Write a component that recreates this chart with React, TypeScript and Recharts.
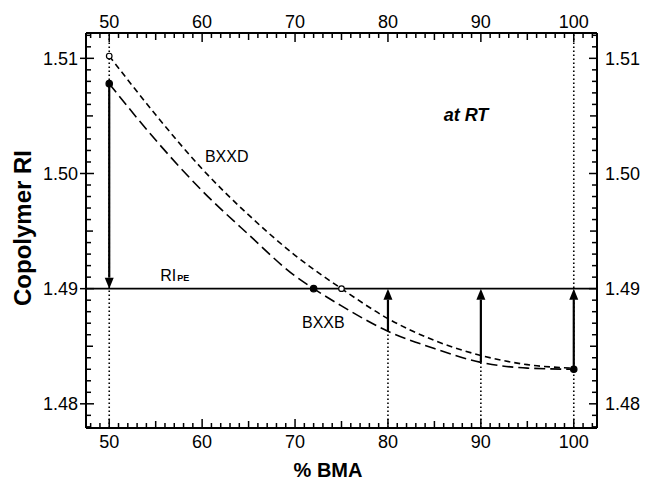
import { ComposedChart, Line, XAxis, YAxis, ReferenceLine, ReferenceDot } from 'recharts'

// % BMA vs copolymer refractive index
const bxxdX = [50, 55, 60, 65, 70, 75, 80, 85, 90, 95, 100]
const bxxdRI = [1.5102, 1.5051, 1.5004, 1.4964, 1.4929, 1.49, 1.4874, 1.4855, 1.4842, 1.4834, 1.4831]
const bxxbX = [50, 55, 60, 65, 70, 72, 75, 80, 85, 90, 95, 100]
const bxxbRI = [1.5078, 1.5029, 1.4985, 1.4947, 1.4911, 1.49, 1.4885, 1.4863, 1.4848, 1.4836, 1.4831, 1.483]
const riPE = 1.49
const bxxdMarks = [50, 75]
const bxxbMarks = [50, 72, 100]
const arrowUpX = [80, 90, 100]
const xTickLabels = [50, 60, 70, 80, 90, 100]
const yTickLabels = [1.48, 1.49, 1.5, 1.51]

const xDomain = [47.5, 102.5]
const yDomain = [1.4779, 1.5122]

const bxxd = bxxdX.map((x, i) => ({ x, y: bxxdRI[i] }))
const bxxb = bxxbX.map((x, i) => ({ x, y: bxxbRI[i] }))
const riAt = (x: number) => bxxb.find((d) => d.x === x)!.y

// unlabeled minor ticks
const xMinor: number[] = []
for (let i = 48; i <= 102; i++) xMinor.push(i)
const yMinor: number[] = []
for (let i = 1478; i <= 1512; i++) yMinor.push(i / 1000)

// plot box is 511 x 395 px; turns tick lengths (px) into data units
const xPx = (xDomain[1] - xDomain[0]) / 511
const yPx = (yDomain[1] - yDomain[0]) / 395

const FONT = '"Liberation Sans", Arial, Helvetica, sans-serif'
const near = (a: number, b: number) => Math.abs(a - b) < 1e-7
const isMult = (v: number, step: number) => Math.abs(v / step - Math.round(v / step)) < 1e-6
const xLen = (v: number) => (xTickLabels.some((t) => near(t, v)) ? 9 : isMult(v, 5) ? 7 : 5)
const yLen = (v: number) => (yTickLabels.some((t) => near(t, v)) ? 8 : isMult(v, 0.005) ? 7 : 5)

const XLabel = (side: 'top' | 'bottom') => (p: any) => {
  const { x, y, payload } = p
  const v = payload.value
  if (!xTickLabels.some((t) => near(t, v))) return <g />
  return (
    <text x={x} y={side === 'bottom' ? y + 20 : y - 5} textAnchor="middle" fontSize={18} fontFamily={FONT} fill="#000">
      {v}
    </text>
  )
}

const YLabel = (side: 'left' | 'right') => (p: any) => {
  const { x, y, payload } = p
  const v = payload.value
  if (!yTickLabels.some((t) => near(t, v))) return <g />
  const dir = side === 'left' ? -1 : 1
  return (
    <g>
      {side === 'left' && <path d={`M${x - 6},${y}H${x}`} stroke="black" strokeWidth={1.5} fill="none" />}
      <text x={x + dir * 8} y={y + 6.5} textAnchor={side === 'left' ? 'end' : 'start'} fontSize={18} fontFamily={FONT} fill="#000">
        {v.toFixed(2)}
      </text>
    </g>
  )
}

const markDot = (marks: number[], filled: boolean) => (p: any) => {
  const { cx, cy, payload, index } = p
  if (!marks.includes(payload.x)) return <g key={`n-${index}`} />
  return (
    <circle key={`m-${index}`} cx={cx} cy={cy} r={filled ? 3.2 : 2.8} fill={filled ? '#000' : '#fff'} stroke="#000" strokeWidth={1.2} />
  )
}

const Arrow = (p: any) => {
  const { x1, y1, x2, y2 } = p
  const dir = y2 > y1 ? 1 : -1
  const L = 11
  const W = 4.5
  return (
    <g>
      <path d={`M${x1},${y1}L${x2},${y2 - dir * L}`} stroke="#000" strokeWidth={2.2} fill="none" />
      <polygon points={`${x2},${y2} ${x2 - W},${y2 - dir * L} ${x2 + W},${y2 - dir * L}`} fill="#000" />
    </g>
  )
}

const textAt = (txt: string, anchor: string, size: number, extra: any = {}) => (p: any) => (
  <text x={p.cx} y={p.cy} textAnchor={anchor} fontSize={size} fontFamily={FONT} fill="#000" {...extra}>
    {txt}
  </text>
)

const riLabel = (p: any) => (
  <text x={p.cx} y={p.cy} fontFamily={FONT} fill="#000">
    <tspan fontSize={16}>RI</tspan>
    <tspan fontSize={9} fontWeight="bold" dx={1}>PE</tspan>
  </text>
)

const ax = { xAxisId: 'b', yAxisId: 'l' }
const tickStyle = { stroke: 'black', strokeWidth: 1.5, ifOverflow: 'visible' as const }

export default function App() {
  return (
    <div style={{ position: 'absolute', left: 0, top: 0, background: '#fff' }}>
      <ComposedChart width={646} height={484} margin={{ top: 3, right: 4, bottom: 26, left: 16 }}>
        <XAxis xAxisId="b" type="number" dataKey="x" domain={xDomain} allowDataOverflow ticks={xTickLabels} interval={0}
          tickSize={0} tickMargin={0} tickLine={false} tick={XLabel('bottom')} axisLine={{ stroke: '#000', strokeWidth: 2 }} height={30}
          label={{ content: () => (
            <text x={328} y={477} textAnchor="middle" fontSize={20} fontWeight="bold" fontFamily={FONT} fill="#000">% BMA</text>
          ) }}
        />
        <XAxis xAxisId="t" orientation="top" type="number" dataKey="x" domain={xDomain} allowDataOverflow ticks={xTickLabels} interval={0}
          tickSize={0} tickMargin={0} tickLine={false} tick={XLabel('top')} axisLine={{ stroke: '#000', strokeWidth: 2 }} height={30} />
        <YAxis yAxisId="l" type="number" domain={yDomain} allowDataOverflow ticks={yTickLabels} interval={0}
          tickSize={0} tickMargin={0} tickLine={false} tick={YLabel('left')} axisLine={{ stroke: '#000', strokeWidth: 2 }} width={70}
          label={{ content: () => (
            <text x={31} y={228} transform="rotate(-90, 31, 228)" textAnchor="middle" fontSize={24} fontWeight="bold" fontFamily={FONT} fill="#000">
              Copolymer RI
            </text>
          ) }}
        />
        <YAxis yAxisId="r" orientation="right" type="number" domain={yDomain} allowDataOverflow ticks={yTickLabels} interval={0}
          tickSize={0} tickMargin={0} tickLine={false} tick={YLabel('right')} axisLine={{ stroke: '#000', strokeWidth: 2 }} width={45} />

        {/* inward tick marks on all four sides */}
        {xMinor.map((v) => (
          <ReferenceLine key={`tb-${v}`} {...ax} {...tickStyle} segment={[{ x: v, y: yDomain[0] }, { x: v, y: yDomain[0] + xLen(v) * yPx }]} />
        ))}
        {xMinor.map((v) => (
          <ReferenceLine key={`tt-${v}`} {...ax} {...tickStyle} segment={[{ x: v, y: yDomain[1] }, { x: v, y: yDomain[1] - xLen(v) * yPx }]} />
        ))}
        {yMinor.map((v) => (
          <ReferenceLine key={`tl-${v}`} {...ax} {...tickStyle} segment={[{ x: xDomain[0], y: v }, { x: xDomain[0] + yLen(v) * xPx, y: v }]} />
        ))}
        {yMinor.map((v) => (
          <ReferenceLine key={`tr-${v}`} {...ax} {...tickStyle} segment={[{ x: xDomain[1], y: v }, { x: xDomain[1] - yLen(v) * xPx, y: v }]} />
        ))}

        {/* dotted guides */}
        <ReferenceLine {...ax} x={50} stroke="#000" strokeWidth={1.6} strokeDasharray="1.6 2.4" />
        <ReferenceLine {...ax} x={100} stroke="#000" strokeWidth={1.6} strokeDasharray="1.6 2.4" />
        {arrowUpX.filter((x) => x !== 100).map((x) => (
          <ReferenceLine key={`g-${x}`} {...ax} segment={[{ x, y: yDomain[0] }, { x, y: riAt(x) }]} stroke="#000" strokeWidth={1.6} strokeDasharray="1.6 2.4" />
        ))}

        <ReferenceLine {...ax} y={riPE} stroke="#000" strokeWidth={1.6} />

        {/* arrows */}
        <ReferenceLine {...ax} segment={[{ x: 50, y: riAt(50) }, { x: 50, y: riPE }]} shape={Arrow} />
        {arrowUpX.map((x) => (
          <ReferenceLine key={`a-${x}`} {...ax} segment={[{ x, y: riAt(x) }, { x, y: riPE }]} shape={Arrow} />
        ))}

        <Line {...ax} data={bxxd} dataKey="y" type="monotone" stroke="#000" strokeWidth={1.6} strokeDasharray="6 4"
          dot={markDot(bxxdMarks, false)} activeDot={false} isAnimationActive={false} />
        <Line {...ax} data={bxxb} dataKey="y" type="monotone" stroke="#000" strokeWidth={1.6} strokeDasharray="11 5"
          dot={markDot(bxxbMarks, true)} activeDot={false} isAnimationActive={false} />

        <ReferenceDot {...ax} x={88.4} y={1.5046} r={0} shape={textAt('at RT', 'middle', 18, { fontWeight: 'bold', fontStyle: 'italic' })} />
        <ReferenceDot {...ax} x={60.3} y={1.50096} r={0} shape={textAt('BXXD', 'start', 16)} />
        <ReferenceDot {...ax} x={70.75} y={1.48661} r={0} shape={textAt('BXXB', 'start', 16)} />
        <ReferenceDot {...ax} x={55.48} y={1.4907} r={0} shape={riLabel} />
      </ComposedChart>
    </div>
  )
}
